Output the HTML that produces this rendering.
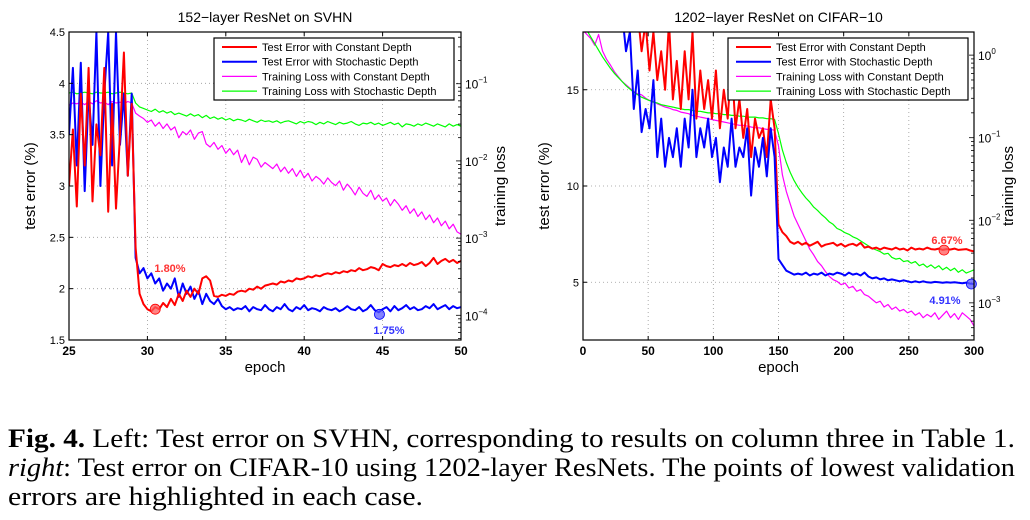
<!DOCTYPE html>
<html><head><meta charset="utf-8"><style>
html,body{margin:0;padding:0;background:#fff}
svg{display:block}
text{font-family:"Liberation Sans",sans-serif}
.cap{font-family:"Liberation Serif",serif;font-size:26px;fill:#000}
</style></head><body>
<svg id="svg" width="1030" height="520" viewBox="0 0 1030 520" xmlns="http://www.w3.org/2000/svg">
<text class="cap" x="8" y="447" textLength="1007" lengthAdjust="spacingAndGlyphs"><tspan font-weight="bold">Fig. 4.</tspan> Left: Test error on SVHN, corresponding to results on column three in Table 1.</text>
<text class="cap" x="8" y="476" textLength="1007" lengthAdjust="spacingAndGlyphs"><tspan font-style="italic">right</tspan>: Test error on CIFAR-10 using 1202-layer ResNets. The points of lowest validation</text>
<text class="cap" x="8" y="505" textLength="415" lengthAdjust="spacingAndGlyphs">errors are highlighted in each case.</text>
</svg>
<script>
// ---------- Left chart data (epoch 25..50 step 0.25) ----------
const leftEpochStart = 25, leftEpochStep = 0.25;
const leftXTicks = [25,30,35,40,45,50];
const leftYTicks = [1.5,2,2.5,3,3.5,4,4.5];
const leftYTickLabels = ["1.5","2","2.5","3","3.5","4","4.5"];
const leftLogTicks = [-4,-3,-2,-1];
const leftRedErr = [3.0,3.55,2.8,3.9,3.2,4.15,2.85,3.6,3.3,4.15,2.75,3.8,2.78,3.5,4.3,3.1,3.8,
2.4,1.95,1.85,
1.8,1.78,1.82,1.8, 1.86,1.82,1.9,1.84, 1.95,1.88,1.98,1.92, 2.0,1.95,2.1,2.12, 2.08,1.93,1.92,1.94,
1.93,1.95,1.94,1.97, 1.98,1.97,2.0,1.99, 2.02,2.0,2.03,2.04, 2.05,2.04,2.07,2.06, 2.08,2.07,2.1,2.09,
2.1,2.12,2.11,2.13, 2.12,2.14,2.15,2.14, 2.16,2.15,2.17,2.16, 2.18,2.17,2.2,2.18, 2.19,2.21,2.2,2.18,
2.24,2.22,2.21,2.23, 2.22,2.24,2.22,2.25, 2.23,2.24,2.26,2.22, 2.25,2.3,2.24,2.27, 2.29,2.26,2.28,2.25, 2.27];
const leftBlueErr = [3.5,4.15,3.2,4.2,2.95,3.9,3.4,4.5,3.0,3.9,4.5,3.2,4.5,3.4,3.9,3.1,3.9,
2.3,2.15,2.2,
2.1,2.15,2.05,2.1, 1.98,2.05,2.0,2.1, 1.92,2.05,1.95,2.02, 1.9,1.98,1.85,1.95, 1.88,1.85,1.9,1.83,
1.8,1.82,1.79,1.81, 1.8,1.83,1.78,1.82, 1.8,1.79,1.84,1.8, 1.78,1.82,1.8,1.85, 1.8,1.78,1.82,1.8,
1.84,1.79,1.81,1.8, 1.78,1.82,1.8,1.79, 1.81,1.78,1.8,1.83, 1.8,1.79,1.82,1.78, 1.8,1.84,1.79,1.77,
1.8,1.82,1.78,1.83, 1.79,1.81,1.84,1.8, 1.82,1.79,1.8,1.83, 1.81,1.85,1.8,1.82, 1.84,1.8,1.83,1.81, 1.82];
const leftMagentaLossLog10 = [-1.28,-1.25,-1.26,-1.24,-1.27,-1.23,-1.26,-1.22,-1.25,-1.24,-1.27,-1.23,-1.25,-1.24,-1.26,-1.23,-1.25,
-1.38,-1.42,-1.45,
-1.5,-1.47,-1.55,-1.5, -1.58,-1.52,-1.6,-1.56, -1.7,-1.62,-1.66,-1.6, -1.72,-1.64,-1.62,-1.78, -1.82,-1.76,-1.85,-1.8,
-1.9,-1.84,-1.92,-1.86, -2.02,-1.92,-2.05,-1.95, -1.98,-2.08,-2.02,-2.06, -2.1,-2.04,-2.14,-2.08, -2.16,-2.1,-2.2,-2.12,
-2.22,-2.16,-2.26,-2.2, -2.24,-2.3,-2.22,-2.28, -2.32,-2.26,-2.38,-2.3, -2.36,-2.44,-2.34,-2.42, -2.46,-2.38,-2.5,-2.44,
-2.52,-2.48,-2.58,-2.5, -2.56,-2.64,-2.58,-2.68, -2.62,-2.72,-2.66,-2.76, -2.7,-2.8,-2.74,-2.84, -2.78,-2.88,-2.82,-2.92, -2.95];
const leftGreenLossLog10 = [-1.12,-1.11,-1.13,-1.12,-1.11,-1.12,-1.13,-1.11,-1.12,-1.12,-1.11,-1.13,-1.12,-1.11,-1.12,-1.13,-1.12,
-1.25,-1.3,-1.32,
-1.34,-1.36,-1.33,-1.37, -1.35,-1.38,-1.36,-1.4, -1.38,-1.4,-1.42,-1.39, -1.42,-1.4,-1.44,-1.41, -1.45,-1.43,-1.46,-1.44,
-1.47,-1.45,-1.48,-1.46, -1.47,-1.49,-1.46,-1.48, -1.5,-1.47,-1.49,-1.48, -1.5,-1.48,-1.51,-1.49, -1.48,-1.5,-1.52,-1.49,
-1.51,-1.49,-1.5,-1.53, -1.5,-1.52,-1.49,-1.51, -1.53,-1.5,-1.52,-1.51, -1.49,-1.52,-1.54,-1.51, -1.52,-1.5,-1.53,-1.51,
-1.54,-1.52,-1.5,-1.53, -1.51,-1.56,-1.52,-1.53, -1.55,-1.52,-1.54,-1.51, -1.53,-1.55,-1.52,-1.54, -1.56,-1.52,-1.55,-1.53, -1.55];
const leftBestRed = [30.5, 1.80];
const leftBestBlue = [44.8, 1.75];

// ---------- Right chart data (epoch 0..300 step 3) ----------
const rightEpochStart = 0, rightEpochStep = 3;
const rightXTicks = [0,50,100,150,200,250,300];
const rightYTicks = [5,10,15];
const rightYTickLabels = ["5","10","15"];
const rightLogTicks = [-3,-2,-1,0];
const rightRedErr = [20,20,20,20,20,20,20,20,20,20,19.5,
19,19,18.5,19,17,18.5,16,18,15.5,17,15,18.5,14.5,16.5,14,17,14.5,18,13.5,16,14,15.5,13.5,16,13,15,13.5,16.5,13,14.5,12.5,14,11.5,13.5,12.5,13,11.5,14.5,13,
8,7.6,7.4,7.1,7.0,
7.1, 6.95,7.05,6.9,7.0,7.1, 6.85,6.95,7.0,7.05,6.9, 7.0,6.85,6.95,7.0,6.9, 7.05,6.8,6.85,6.75,6.8,
6.7,6.8,6.75,6.7,6.8, 6.7,6.75,6.65,6.8,6.7, 6.75,6.7,6.8,6.72,6.7, 6.75,6.68,6.72,6.7,6.75, 6.68,6.7,6.72,6.65,6.6];
const rightBlueErr = [20,20,20,20,20,20,20,20,20,20,
19,17,18,14,16,12.8,14,13,15.5,11.5,13.5,11,12.5,11.5,13,11,13.5,12,15,11.5,13,12,13.5,11.5,12.5,10.2,12,11,13.5,11,12,11.5,13,9.5,12,11,12.5,10.5,13,11.5,
6.2,5.9,5.6,5.5,5.4,
5.45, 5.4,5.5,5.35,5.45,5.4, 5.5,5.35,5.45,5.4,5.5, 5.45,5.35,5.5,5.4,5.45, 5.35,5.5,5.3,5.2,5.25,
5.15,5.2,5.1,5.15,5.1, 5.05,5.1,5.05,5.0,5.05, 5.0,5.05,5.0,4.98,5.02, 5.0,4.97,5.0,4.98,5.0, 4.97,4.95,4.98,4.93,4.91];
const rightMagentaLossLog10 = [0.3,0.25,0.2,0.12,0.25,0.05,-0.05,-0.12,-0.2,-0.26,
-0.32,-0.36,-0.4,-0.44,-0.47,-0.48,-0.52,-0.55,-0.56,-0.59,-0.61,-0.63,-0.64,-0.66,-0.67,
-0.69,-0.7,-0.71,-0.73,-0.74,-0.75,-0.76,-0.77,-0.78,-0.79,-0.8,-0.81,-0.82,-0.83,-0.84,
-0.85,-0.85,-0.86,-0.87,-0.88,-0.88,-0.89,-0.9,-0.9,-0.91,
-1.1,-1.45,-1.65,-1.8,-1.95,-2.05,-2.15,-2.25,-2.35,-2.42,-2.5,-2.55,-2.62,-2.68,-2.72,
-2.74,-2.78,-2.76,-2.82,-2.8,-2.86,-2.84,-2.9,-2.92,-2.96,-3.0,-2.98,-3.05,-3.02,-3.08,
-3.05,-3.1,-3.08,-3.12,-3.1,-3.15,-3.12,-3.18,-3.14,-3.17,-3.12,-3.2,-3.15,-3.1,-3.18,
-3.13,-3.2,-3.12,-3.16,-3.2,-3.28];
const rightGreenLossLog10 = [0.35,0.3,0.22,0.14,0.06,-0.02,-0.09,-0.16,-0.22,-0.27,
-0.32,-0.37,-0.41,-0.45,-0.48,-0.51,-0.53,-0.55,-0.57,-0.58,-0.6,-0.61,-0.62,-0.63,-0.64,
-0.65,-0.66,-0.66,-0.67,-0.68,-0.68,-0.69,-0.7,-0.7,-0.71,-0.71,-0.72,-0.72,-0.73,-0.73,
-0.74,-0.74,-0.75,-0.75,-0.75,-0.76,-0.76,-0.77,-0.77,-0.78,
-0.95,-1.15,-1.3,-1.42,-1.52,-1.6,-1.67,-1.73,-1.78,-1.84,-1.88,-1.93,-1.97,-2.02,-2.05,
-2.1,-2.12,-2.15,-2.17,-2.2,-2.22,-2.25,-2.28,-2.31,-2.34,-2.36,-2.38,-2.41,-2.4,-2.45,
-2.47,-2.46,-2.5,-2.49,-2.52,-2.5,-2.55,-2.53,-2.57,-2.54,-2.58,-2.55,-2.6,-2.57,-2.61,
-2.58,-2.63,-2.6,-2.64,-2.62,-2.6];
const rightBestRed = [277, 6.67];
const rightBestBlue = [298, 4.91];

const legendLabels = ["Test Error with Constant Depth","Test Error with Stochastic Depth","Training Loss with Constant Depth","Training Loss with Stochastic Depth"];

const NS = "http://www.w3.org/2000/svg";
const svg = document.getElementById('svg');
function mk(tag, attrs, parent){ const e=document.createElementNS(NS,tag); for(const k in attrs) e.setAttribute(k,attrs[k]); (parent||svg).appendChild(e); return e; }

function drawChart(c){
  const g = mk('g',{});
  
  
  const sx = v => c.L + (v-c.xmin)/(c.xmax-c.xmin)*(c.R-c.L);
  const sy = v => c.B - (v-c.ymin)/(c.ymax-c.ymin)*(c.B-c.T);
  const sl = v => c.B - (v-c.lmin)/(c.lmax-c.lmin)*(c.B-c.T);
  const clipId = c.id+'-clip';
  const defs = mk('defs',{},g);
  const cp = mk('clipPath',{id:clipId},defs);
  mk('rect',{x:c.L,y:c.T,width:c.R-c.L,height:c.B-c.T},cp);
  // grid
  const grid = mk('g',{stroke:'#999','stroke-width':0.8,'stroke-dasharray':'1,3'},g);
  
  
  c.xticks.forEach(v=>{ if(v>c.xmin&&v<c.xmax) mk('line',{x1:sx(v),x2:sx(v),y1:c.T,y2:c.B},grid); });
  c.yticks.forEach(v=>{ if(v>c.ymin&&v<c.ymax) mk('line',{x1:c.L,x2:c.R,y1:sy(v),y2:sy(v)},grid); });
  // series
  const series = [
    {d:c.blue, col:'#0000ff', w:2, log:false, name:'test-error-stochastic-line'},
    {d:c.red, col:'#ff0000', w:2, log:false, name:'test-error-constant-line'},
    {d:c.mag, col:'#ff00ff', w:1.2, log:true, name:'training-loss-constant-line'},
    {d:c.grn, col:'#00ff00', w:1.2, log:true, name:'training-loss-stochastic-line'}
  ];
  const order = c.id==='left' ? [3,2,0,1] : [2,3,1,0];
  order.forEach(k=>{ const s=series[k];
    const pts = s.d.map((v,i)=> sx(c.x0+i*c.step).toFixed(1)+','+(s.log?sl(v):sy(v)).toFixed(1)).join(' ');
    const pl = mk('polyline',{points:pts,fill:'none',stroke:s.col,'stroke-width':s.w,'stroke-linejoin':'round','clip-path':'url(#'+clipId+')'},g);
    
    
  });
  // best markers
  [[c.bestRed,'#ff0000','rgba(255,90,90,0.75)','best-constant'],[c.bestBlue,'#0000ff','rgba(90,90,255,0.75)','best-stochastic']].forEach(m=>{
    const ci = mk('circle',{cx:sx(m[0][0]),cy:sy(m[0][1]),r:5,fill:m[2],stroke:m[1],'stroke-width':0.8},g);
    
    
  });
  c.bestLabels.forEach(b=>{
    const t = mk('text',{x:b.x,y:b.y,'font-size':11,'font-weight':'bold',fill:b.col,'text-anchor':'middle'},g);
    t.textContent = b.txt;
    
    
  });
  // axes box
  const box = mk('rect',{x:c.L,y:c.T,width:c.R-c.L,height:c.B-c.T,fill:'none',stroke:'#000','stroke-width':1.2},g);
  
  
  // x ticks
  c.xticks.forEach(v=>{
    mk('line',{x1:sx(v),x2:sx(v),y1:c.B,y2:c.B-4,stroke:'#000'},g);
    mk('line',{x1:sx(v),x2:sx(v),y1:c.T,y2:c.T+4,stroke:'#000'},g);
    const t = mk('text',{x:sx(v),y:c.B+15,'font-size':12,'font-weight':'bold','text-anchor':'middle'},g);
    t.textContent = String(v);
    
    
  });
  c.yticks.forEach((v,i)=>{
    mk('line',{x1:c.L,x2:c.L+4,y1:sy(v),y2:sy(v),stroke:'#000'},g);
    const t = mk('text',{x:c.L-4,y:sy(v)+4,'font-size':11,'text-anchor':'end'},g);
    t.textContent = c.ylabels[i];
    
    
  });
  // log ticks
  for(let d=Math.floor(c.lmin); d<=Math.ceil(c.lmax); d++){
    for(let m=1;m<10;m++){
      const lv = d+Math.log10(m);
      if(lv<c.lmin||lv>c.lmax) continue;
      const len = m===1?5:3;
      mk('line',{x1:c.R,x2:c.R-len,y1:sl(lv),y2:sl(lv),stroke:'#000','stroke-width':0.8},g);
    }
  }
  c.logticks.forEach(d=>{
    const t = mk('text',{x:c.R+4,y:sl(d)+5,'font-size':12},g);
    
    
    const a = mk('tspan',{},t); a.textContent='10';
    const b = mk('tspan',{dy:-6,'font-size':8},t); b.textContent=String(d).replace('-','\u2212');
  });
  // titles and axis labels
  const ti = mk('text',{x:(c.L+c.R)/2,y:c.T-10,'font-size':14,'text-anchor':'middle'},g);
  ti.textContent = c.title;
  
  
  const xl = mk('text',{x:(c.L+c.R)/2,y:c.B+32,'font-size':15,'text-anchor':'middle'},g);
  xl.textContent = 'epoch';
  
  
  const yl = mk('text',{x:0,y:0,'font-size':15,'text-anchor':'middle',transform:'translate('+(c.L-c.ylOff)+','+((c.T+c.B)/2)+') rotate(-90)'},g);
  yl.textContent = 'test error (%)';
  
  
  const rl = mk('text',{x:0,y:0,'font-size':15,'text-anchor':'middle',transform:'translate('+(c.R+c.rlOff)+','+((c.T+c.B)/2)+') rotate(-90)'},g);
  rl.textContent = 'training loss';
  
  
  // legend
  const lg = mk('g',{},g);
  
  
  mk('rect',{x:c.lgX,y:38,width:c.lgW,height:62,fill:'#fff',stroke:'#000','stroke-width':1.2},lg);
  const cols=['#ff0000','#0000ff','#ff00ff','#00ff00'], ws=[2,2,1.2,1.2];
  legendLabels.forEach((lab,i)=>{
    const y = 47+i*14.7;
    const ln = mk('line',{x1:c.lgX+8,x2:c.lgX+43,y1:y,y2:y,stroke:cols[i],'stroke-width':ws[i]},lg);
    
    
    const t = mk('text',{x:c.lgX+48,y:y+4,'font-size':11},lg);
    t.textContent = lab;
    
    
  });
}

drawChart({id:'left',title:'152\u2212layer ResNet on SVHN',L:69,R:461,T:32,B:340,xmin:25,xmax:50,ymin:1.5,ymax:4.5,
  lmin:-4.32,lmax:-0.33,x0:leftEpochStart,step:leftEpochStep,xticks:leftXTicks,yticks:leftYTicks,ylabels:leftYTickLabels,logticks:leftLogTicks,
  red:leftRedErr,blue:leftBlueErr,mag:leftMagentaLossLog10,grn:leftGreenLossLog10,bestRed:leftBestRed,bestBlue:leftBestBlue,
  bestLabels:[{x:170,y:272,txt:'1.80%',col:'#ff3333',name:'best-constant'},{x:389,y:334,txt:'1.75%',col:'#3333ff',name:'best-stochastic'}],
  ylOff:34,rlOff:44,lgX:214,lgW:240});
drawChart({id:'right',title:'1202\u2212layer ResNet on CIFAR\u221210',L:583,R:974,T:32,B:340,xmin:0,xmax:300,ymin:2,ymax:18,
  lmin:-3.45,lmax:0.28,x0:rightEpochStart,step:rightEpochStep,xticks:rightXTicks,yticks:rightYTicks,ylabels:rightYTickLabels,logticks:rightLogTicks,
  red:rightRedErr,blue:rightBlueErr,mag:rightMagentaLossLog10,grn:rightGreenLossLog10,bestRed:rightBestRed,bestBlue:rightBestBlue,
  bestLabels:[{x:947,y:244,txt:'6.67%',col:'#ff3333',name:'best-constant'},{x:945,y:304,txt:'4.91%',col:'#3333ff',name:'best-stochastic'}],
  ylOff:34,rlOff:39,lgX:728,lgW:240});
</script>
</body></html>
